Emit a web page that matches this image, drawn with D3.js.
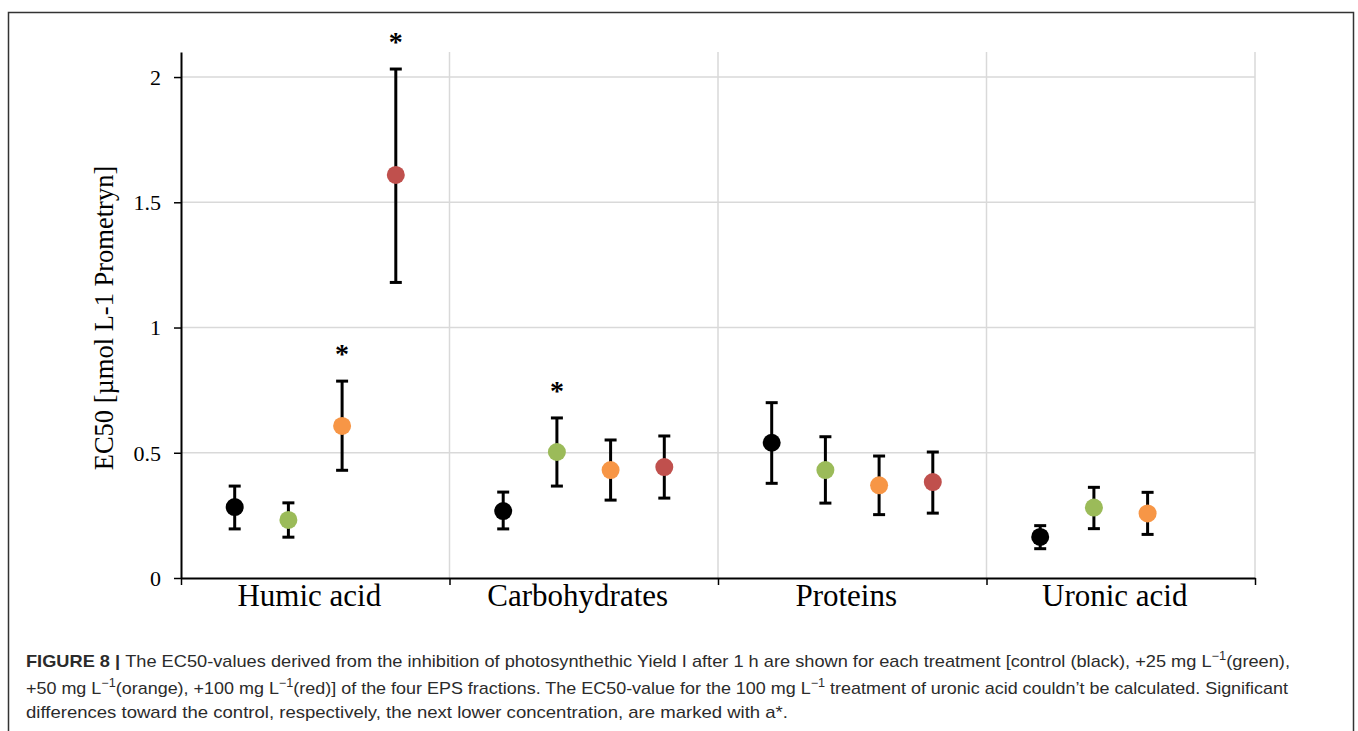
<!DOCTYPE html>
<html>
<head>
  <meta charset="utf-8">
  <script src="https://d3js.org/d3.v7.min.js"></script>
  <style>
    body { margin: 0; background: #fff; }
    .serif { font-family: "Liberation Serif", "Times New Roman", serif; fill: #000; }
    .caption { font-family: "Liberation Sans", Arial, sans-serif; font-size: 17px; fill: #2b2b2b; }
  </style>
</head>
<body>
  <svg class="chart" width="1358" height="731"></svg>
  <script>
    // chart data
    const categories = ["Humic acid", "Carbohydrates", "Proteins", "Uronic acid"];
    const treatments = ["control", "+25 mg", "+50 mg", "+100 mg"];
    const treatmentColors = ["#000000", "#9bbb59", "#f79646", "#c0504d"];

    const controlMean  = [0.283, 0.267, 0.540, 0.164];
    const controlLow   = [0.196, 0.196, 0.378, 0.117];
    const controlHigh  = [0.367, 0.343, 0.700, 0.209];

    const plus25Mean   = [0.232, 0.503, 0.431, 0.281];
    const plus25Low    = [0.163, 0.367, 0.299, 0.197];
    const plus25High   = [0.300, 0.639, 0.564, 0.362];

    const plus50Mean   = [0.607, 0.431, 0.370, 0.258];
    const plus50Low    = [0.430, 0.311, 0.253, 0.174];
    const plus50High   = [0.786, 0.551, 0.487, 0.342];

    const plus100Mean  = [1.609, 0.443, 0.383, null];
    const plus100Low   = [1.180, 0.319, 0.259, null];
    const plus100High  = [2.032, 0.567, 0.503, null];

    // [category, treatment] marked with *
    const significant = [["Humic acid", "+50 mg"], ["Humic acid", "+100 mg"], ["Carbohydrates", "+25 mg"]];

    const yTicks = [0, 0.5, 1, 1.5, 2];
    const Y_LABEL = "EC50 [µmol L-1 Prometryn]";

    // layout
    const PLOT = { left: 181, right: 1255, top: 52, bottom: 578 };
    const GRID_COLOR = "#d9d9d9";
    const RADIUS = 9;

    const series = [
      { name: treatments[0], mean: controlMean, low: controlLow, high: controlHigh },
      { name: treatments[1], mean: plus25Mean,  low: plus25Low,  high: plus25High },
      { name: treatments[2], mean: plus50Mean,  low: plus50Low,  high: plus50High },
      { name: treatments[3], mean: plus100Mean, low: plus100Low, high: plus100High }
    ];
    const points = [];
    series.forEach((s, si) => {
      categories.forEach((c, ci) => {
        if (s.mean[ci] == null) return;
        points.push({ category: c, treatment: s.name, color: treatmentColors[si],
                      mean: s.mean[ci], low: s.low[ci], high: s.high[ci] });
      });
    });

    const svg = d3.select(".chart");

    // figure frame
    svg.append("rect")
      .attr("x", 8.5).attr("y", 12.5)
      .attr("width", 1345).attr("height", 740)
      .attr("fill", "none").attr("stroke", "#333").attr("stroke-width", 1.5);

    const xBand = d3.scaleBand().domain(categories).range([PLOT.left, PLOT.right]).paddingInner(0);
    const xInner = d3.scalePoint().domain(treatments).range([0, xBand.bandwidth()]).padding(1);
    const xEdges = d3.scaleLinear().domain([0, categories.length]).range([PLOT.left, PLOT.right]);
    const yScale = d3.scaleLinear().domain([0, 2.1]).range([PLOT.bottom, PLOT.top]);

    const px = d => xBand(d.category) + xInner(d.treatment);

    // gridlines
    svg.append("g").selectAll("line")
      .data(yTicks.filter(t => t > 0)).enter().append("line")
      .attr("x1", PLOT.left).attr("x2", PLOT.right)
      .attr("y1", d => yScale(d)).attr("y2", d => yScale(d))
      .attr("stroke", GRID_COLOR).attr("stroke-width", 1.5);
    svg.append("g").selectAll("line")
      .data(d3.range(1, categories.length + 1)).enter().append("line")
      .attr("x1", d => xEdges(d)).attr("x2", d => xEdges(d))
      .attr("y1", PLOT.top).attr("y2", PLOT.bottom)
      .attr("stroke", GRID_COLOR).attr("stroke-width", 1.5);

    // y axis
    const yAxis = svg.append("g")
      .attr("transform", `translate(${PLOT.left},0)`)
      .call(d3.axisLeft(yScale).tickValues(yTicks).tickFormat(d3.format("")).tickSize(7).tickSizeOuter(0).tickPadding(13));
    yAxis.select(".domain").attr("stroke", "#000").attr("stroke-width", 2);
    yAxis.selectAll(".tick line").attr("stroke", "#000").attr("stroke-width", 1.5);
    yAxis.selectAll("text").attr("class", "serif").style("font-size", "22px").attr("dy", "0.33em");

    // x axis: ticks at category edges, labels in the middle
    const xAxis = svg.append("g")
      .attr("transform", `translate(0,${PLOT.bottom})`)
      .call(d3.axisBottom(xEdges).tickValues(d3.range(0, categories.length + 1)).tickFormat("").tickSize(7).tickSizeOuter(0));
    xAxis.select(".domain").attr("stroke", "#000").attr("stroke-width", 2);
    xAxis.selectAll(".tick line").attr("stroke", "#000").attr("stroke-width", 1.5);

    const xLabels = svg.append("g")
      .attr("transform", `translate(0,${PLOT.bottom})`)
      .call(d3.axisBottom(xBand).tickSize(0).tickPadding(6));
    xLabels.select(".domain").remove();
    xLabels.selectAll("text").attr("class", "serif").style("font-size", "31px").attr("dx", "-6");

    svg.append("text").attr("class", "serif")
      .attr("transform", `translate(113,${(PLOT.top + PLOT.bottom) / 2 + 3}) rotate(-90)`)
      .attr("text-anchor", "middle")
      .style("font-size", "26.5px")
      .text(Y_LABEL);

    // error bars
    const bars = svg.append("g").selectAll("g").data(points).enter().append("g")
      .attr("stroke", "#000").attr("stroke-width", 3);
    bars.append("line")
      .attr("x1", px).attr("x2", px)
      .attr("y1", d => yScale(d.low)).attr("y2", d => yScale(d.high));
    bars.append("line")
      .attr("x1", d => px(d) - 6).attr("x2", d => px(d) + 6)
      .attr("y1", d => yScale(d.high)).attr("y2", d => yScale(d.high));
    bars.append("line")
      .attr("x1", d => px(d) - 6).attr("x2", d => px(d) + 6)
      .attr("y1", d => yScale(d.low)).attr("y2", d => yScale(d.low));

    // means
    svg.append("g").selectAll("circle").data(points).enter().append("circle")
      .attr("cx", px).attr("cy", d => yScale(d.mean))
      .attr("r", RADIUS).attr("fill", d => d.color);

    // significance stars
    const starData = significant.map(([c, t]) => points.find(p => p.category === c && p.treatment === t));
    svg.append("g").selectAll("text").data(starData).enter().append("text")
      .attr("class", "serif")
      .attr("x", px).attr("y", d => yScale(d.high) - 18)
      .attr("text-anchor", "middle")
      .style("font-size", "28px").style("font-weight", "bold")
      .text("*");

    // caption
    const caption = svg.append("g").attr("class", "caption");
    const sup = (sel, s) => sel.append("tspan").attr("dy", -7).style("font-size", "12px").text(s);
    const back = (sel, s) => sel.append("tspan").attr("dy", 7).text(s);

    const l1 = caption.append("text").attr("x", 26).attr("y", 667).attr("textLength", 1264).attr("lengthAdjust", "spacingAndGlyphs");
    l1.append("tspan").style("font-weight", "bold").text("FIGURE 8 | ");
    l1.append("tspan").text("The EC50-values derived from the inhibition of photosynthethic Yield I after 1 h are shown for each treatment [control (black), +25 mg L");
    sup(l1, "\u22121"); back(l1, "(green),");

    const l2 = caption.append("text").attr("x", 26).attr("y", 694).attr("textLength", 1262).attr("lengthAdjust", "spacingAndGlyphs");
    l2.append("tspan").text("+50 mg L");
    sup(l2, "\u22121"); back(l2, "(orange), +100 mg L");
    sup(l2, "\u22121"); back(l2, "(red)] of the four EPS fractions. The EC50-value for the 100 mg L");
    sup(l2, "\u22121"); back(l2, "  treatment of uronic acid couldn\u2019t be calculated. Significant");

    caption.append("text").attr("x", 26).attr("y", 718).attr("textLength", 762).attr("lengthAdjust", "spacingAndGlyphs")
      .text("differences toward the control, respectively, the next lower concentration, are marked with a*.");
  </script>
</body>
</html>
